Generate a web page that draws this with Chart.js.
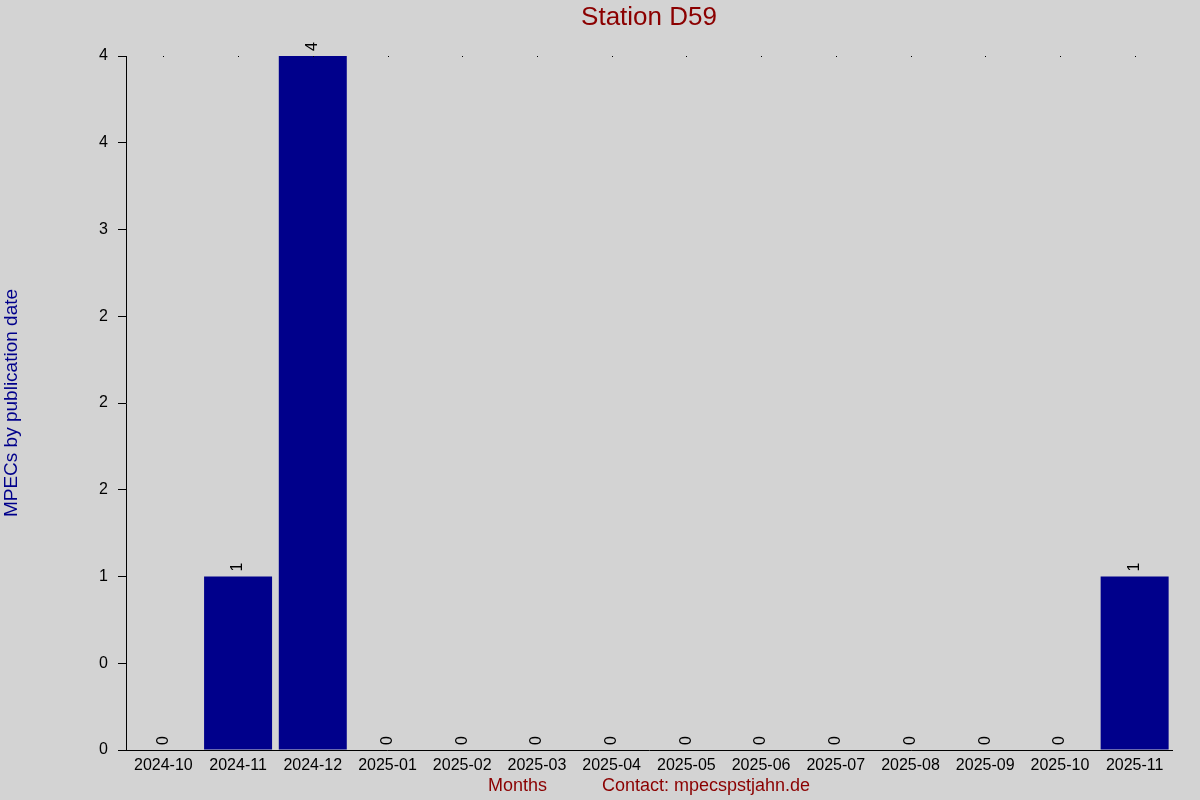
<!DOCTYPE html>
<html>
<head>
<meta charset="utf-8">
<script src="https://cdn.jsdelivr.net/npm/chart.js@4/dist/chart.umd.min.js"></script>
<style>
  html, body { margin: 0; padding: 0; background: #d3d3d3; }
  #wrap { width: 1200px; height: 800px; }
</style>
</head>
<body>
<div id="wrap"><canvas id="myChart" width="1200" height="800"></canvas></div>
<script>
const months = [
  "2024-10", "2024-11", "2024-12", "2025-01", "2025-02", "2025-03", "2025-04",
  "2025-05", "2025-06", "2025-07", "2025-08", "2025-09", "2025-10", "2025-11"
];
const mpecCounts = [0, 1, 4, 0, 0, 0, 0, 0, 0, 0, 0, 0, 0, 1];
const chartTitle = "Station D59";
const yTitle = "MPECs by publication date";
const xTitle = "Months           Contact: mpecspstjahn.de";

const FONT = "'Liberation Sans', Arial, sans-serif";

// half-to-even rounding, like the tick labels of the original
function roundEven(v) {
  let f = Math.floor(v);
  let d = v - f;
  if (Math.abs(d - 0.5) < 1e-9) return (f % 2 === 0) ? f : f + 1;
  return Math.round(v);
}

let extras = {
  id: "extras",
  beforeDraw(chart) {
    let ctx = chart.ctx;
    ctx.save();
    ctx.fillStyle = "#d3d3d3";
    ctx.fillRect(0, 0, chart.width, chart.height);
    ctx.restore();
  },
  afterDatasetsDraw(chart) {
    let ctx = chart.ctx;
    let area = chart.chartArea;
    let x = chart.scales.x;
    ctx.save();
    // title
    ctx.fillStyle = "#8b0000";
    ctx.font = "26px " + FONT;
    ctx.textAlign = "center";
    ctx.textBaseline = "middle";
    ctx.fillText(chartTitle, (area.left + area.right) / 2, 18);
    // small dots on top
    ctx.fillStyle = "#000";
    months.forEach((m, i) => {
      ctx.fillRect(Math.round(x.getPixelForValue(i)), area.top, 1, 1);
    });
    // value labels
    let meta = chart.getDatasetMeta(0);
    ctx.font = "16px " + FONT;
    ctx.textAlign = "left";
    ctx.textBaseline = "middle";
    meta.data.forEach((bar, i) => {
      ctx.save();
      ctx.translate(bar.x, bar.y - 5);
      ctx.rotate(-Math.PI / 2);
      ctx.fillText(String(mpecCounts[i]), 0, 0);
      ctx.restore();
    });
    ctx.restore();
  }
};

new Chart(document.getElementById("myChart"), {
  type: "bar",
  data: {
    labels: months,
    datasets: [{
      data: mpecCounts,
      backgroundColor: "#00008b",
      barPercentage: 0.91,
      categoryPercentage: 1.0
    }]
  },
  options: {
    responsive: false,
    animation: false,
    layout: { padding: { top: 56, right: 28, left: 0, bottom: 3 } },
    plugins: {
      legend: { display: false },
      tooltip: { enabled: false }
    },
    scales: {
      x: {
        grid: { display: false },
        border: { display: true, color: "#000", width: 1 },
        ticks: {
          color: "#000",
          font: { family: FONT, size: 16 },
          padding: -2,
          maxRotation: 0,
          autoSkip: false
        },
        title: {
          display: true,
          text: xTitle,
          color: "#8b0000",
          font: { family: FONT, size: 18 },
          padding: { top: 0, bottom: 0 }
        },
        afterFit(scale) { scale.height = 47; }
      },
      y: {
        min: 0,
        max: 4,
        grid: {
          drawOnChartArea: false,
          drawTicks: true,
          tickLength: 8,
          color: "#000"
        },
        border: { display: true, color: "#000", width: 1 },
        ticks: {
          stepSize: 0.5,
          color: "#000",
          padding: 10,
          font: { family: FONT, size: 16 },
          callback: (v) => String(roundEven(v))
        },
        title: {
          display: true,
          text: yTitle,
          color: "#00008b",
          font: { family: FONT, size: 19 },
          padding: { top: 0, bottom: 0 }
        },
        afterFit(scale) { scale.width = 126; }
      }
    }
  },
  plugins: [extras]
});
</script>
</body>
</html>
